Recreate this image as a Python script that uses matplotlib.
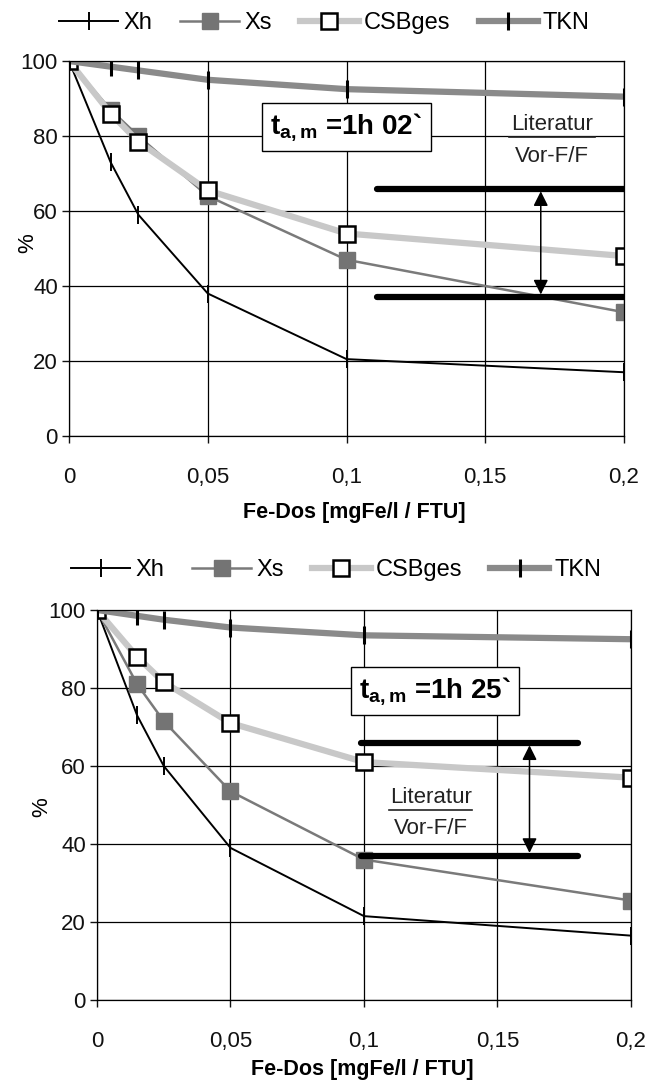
import matplotlib
matplotlib.use("Agg")
from matplotlib import pyplot as plt

plt.rcParams['font.family'] = ['Liberation Sans', 'DejaVu Sans']
plt.rcParams['mathtext.fontset'] = 'custom'
plt.rcParams['mathtext.bf'] = 'Liberation Sans:bold'
plt.rcParams['mathtext.rm'] = 'Liberation Sans'

dose = [0, 0.015, 0.025, 0.05, 0.1, 0.2]
x_ticks = [0, 0.05, 0.1, 0.15, 0.2]
x_labels = ["0", "0,05", "0,1", "0,15", "0,2"]
y_ticks = [0, 20, 40, 60, 80, 100]

# oberes Diagramm (t = 1h 02)
xh_1 = [100, 73, 59, 38, 20.5, 17]
xs_1 = [100, 87, 80, 64, 47, 33]
csb_1 = [100, 86, 78.5, 65.5, 54, 48]
tkn_1 = [100, 98.5, 97.5, 95, 92.5, 90.5]

# unteres Diagramm (t = 1h 25)
xh_2 = [100, 73, 60, 39, 21.5, 16.5]
xs_2 = [100, 81, 71.5, 53.5, 36, 25.5]
csb_2 = [100, 88, 81.5, 71, 61, 57]
tkn_2 = [100, 98.5, 97.5, 95.5, 93.5, 92.5]

lit_levels = [66, 37]

fig = plt.figure(figsize=(6.48, 10.84), dpi=100)
ax1 = fig.add_axes([0.1065, 0.5978, 0.8565, 0.3459])
ax2 = fig.add_axes([0.1497, 0.0775, 0.824, 0.3598])


def draw(ax, xh, xs, csb, tkn, leg_x, leg_y):
    ax.plot(dose, xh, color="black", lw=1.4, marker="|", ms=13, mew=1.4, label="Xh")
    ax.plot(dose, xs, color="#7a7a7a", lw=1.8, marker="s", ms=11, mfc="#747474", mec="#747474", label="Xs")
    ax.plot(dose, csb, color="#c8c8c8", lw=4.5, marker="s", ms=12, mfc="white", mec="black", mew=1.8, label="CSBges")
    ax.plot(dose, tkn, color="#8a8a8a", lw=4.5, marker="|", ms=13, mec="black", mew=2.2, label="TKN")
    ax.set_xlim(0, 0.2)
    ax.set_ylim(0, 100)
    ax.set_xticks(x_ticks)
    ax.set_xticklabels(x_labels)
    ax.set_yticks(y_ticks)
    ax.tick_params(labelsize=16, length=5, width=1, pad=3, colors="#111111")
    ax.tick_params(axis="x", pad=17)
    ax.grid(True, color="black", lw=0.9)
    ax.set_axisbelow(True)
    for s in ax.spines.values():
        s.set_linewidth(0.9)
    ax.set_xlabel("Fe-Dos [mgFe/l / FTU]", fontsize=15.5, fontweight="bold")
    ax.set_ylabel("%", fontsize=16)
    ax.legend(loc="center", bbox_to_anchor=(leg_x, leg_y), ncol=4, frameon=False,
              fontsize=17, handlelength=2.5, handletextpad=0.2, columnspacing=1.2,
              borderaxespad=0, borderpad=0)


def literatur(ax, x0, x1, xa, tx, ty, ty2, uy):
    for lv in lit_levels:
        ax.plot([x0, x1], [lv, lv], color="black", lw=4.5, solid_capstyle="round")
    ax.annotate("", xy=(xa, lit_levels[0]), xytext=(xa, lit_levels[1]),
                arrowprops=dict(arrowstyle="<|-|>", color="black", lw=1.1, mutation_scale=22))
    ax.text(tx, ty, "Literatur", fontsize=16, ha="center", va="center", color="#222222")
    ax.plot([tx - 0.0155, tx + 0.0155], [uy, uy], color="#222222", lw=1.2)
    ax.text(tx, ty2, "Vor-F/F", fontsize=16, ha="center", va="center", color="#222222")


draw(ax1, xh_1, xs_1, csb_1, tkn_1, 0.46, 1.101)
literatur(ax1, 0.111, 0.2, 0.17, 0.174, 83, 74.5, 79.8)
ax1.text(0.1, 82.4, r"$\mathbf{t_{a,m}}$ =1h 02`", fontsize=20, fontweight="bold", ha="center", va="center",
         bbox=dict(boxstyle="square,pad=0.3", fc="white", ec="black", lw=1))
ax1.xaxis.set_label_coords(0.514, -0.176)
ax1.yaxis.set_label_coords(-0.056, 0.515)

draw(ax2, xh_2, xs_2, csb_2, tkn_2, 0.448, 1.103)
literatur(ax2, 0.099, 0.18, 0.162, 0.125, 52, 44, 48.8)
ax2.text(0.1266, 79.2, r"$\mathbf{t_{a,m}}$ =1h 25`", fontsize=20, fontweight="bold", ha="center", va="center",
         bbox=dict(boxstyle="square,pad=0.3", fc="white", ec="black", lw=1))
ax2.xaxis.set_label_coords(0.496, -0.152)
ax2.yaxis.set_label_coords(-0.084, 0.495)

fig.savefig("out.png", dpi=100)
